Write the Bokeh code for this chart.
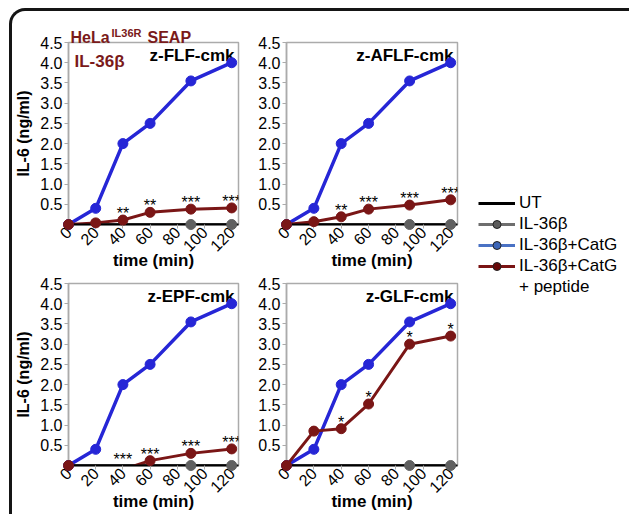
import numpy as np
from bokeh.plotting import figure
from bokeh.models import (ColumnDataSource, FixedTicker, Label, LabelSet, Legend,
                          LegendItem, NumeralTickFormatter, Range1d)
from bokeh.layouts import row, column
from bokeh.embed import file_html
from bokeh.resources import INLINE
from bokeh.core.properties import value

# ---------------- data ----------------
time_min = [0, 20, 40, 60, 90, 120]
x_ticks = [0, 20, 40, 60, 80, 100, 120]
y_ticks = [0.5, 1.0, 1.5, 2.0, 2.5, 3.0, 3.5, 4.0, 4.5]
ut_time = [0, 120]
ut_values = [0, 0]
il36b_time = [90, 120]
il36b_values = [0, 0]
catg_values = [0, 0.40, 2.00, 2.50, 3.55, 4.00]
peptide_names = ["z-FLF-cmk", "z-AFLF-cmk", "z-EPF-cmk", "z-GLF-cmk"]
pep_flf = [0, 0.04, 0.11, 0.30, 0.38, 0.41]
pep_aflf = [0, 0.07, 0.19, 0.38, 0.48, 0.61]
pep_epf = [0, -0.10, -0.10, 0.12, 0.30, 0.41]
pep_glf = [0, 0.85, 0.91, 1.52, 3.00, 3.20]
stars_flf = ["", "", "**", "**", "***", "***"]
stars_aflf = ["", "", "**", "***", "***", "***"]
stars_epf = ["", "", "***", "***", "***", "***"]
stars_glf = ["", "", "*", "*", "*", "*"]
legend_labels = ["UT", "IL-36β", "IL-36β+CatG", "IL-36β+CatG", "+ peptide"]

# ---------------- style ----------------
FONT = "Liberation Sans"
BLUE = "#2626d6"
RED = "#7a1616"
GRAYM = "#606060"
FRAME = "#ababab"
DARKRED = "#7a1a1a"


def make_panel(name, pep, stars, geom, show_ylabel):
    w, h, bl, br, bt, bb = geom
    p = figure(width=w, height=h, x_range=Range1d(0, 125), y_range=Range1d(0, 4.5),
               output_backend="svg", toolbar_location=None,
               min_border_left=bl, min_border_right=br,
               min_border_top=bt, min_border_bottom=bb)
    p.grid.visible = False
    p.outline_line_color = FRAME
    p.outline_line_width = 1.5
    p.background_fill_color = "white"
    p.border_fill_alpha = 0

    xa = p.xaxis[0]
    xa.ticker = FixedTicker(ticks=x_ticks)
    xa.major_label_orientation = np.pi / 4
    xa.axis_line_color = "black"
    xa.axis_line_width = 2
    xa.major_tick_line_color = FRAME
    xa.major_tick_out = 4
    xa.major_tick_in = 0
    xa.minor_tick_line_color = None
    xa.major_label_text_font = FONT
    xa.major_label_text_font_size = "16px"
    xa.major_label_text_color = "black"
    xa.major_label_standoff = 1
    xa.axis_label = "time (min)"
    xa.axis_label_text_font = FONT
    xa.axis_label_text_font_style = "bold"
    xa.axis_label_text_font_size = "17px"
    xa.axis_label_text_color = "black"
    xa.axis_label_standoff = -9

    ya = p.yaxis[0]
    ya.ticker = FixedTicker(ticks=y_ticks)
    ya.formatter = NumeralTickFormatter(format="0.0")
    ya.axis_line_color = FRAME
    ya.axis_line_width = 1.5
    ya.major_tick_line_color = FRAME
    ya.major_tick_out = 4
    ya.major_tick_in = 0
    ya.minor_tick_line_color = None
    ya.major_label_text_font = FONT
    ya.major_label_text_font_size = "16px"
    ya.major_label_text_color = "black"
    ya.major_label_standoff = 2
    if show_ylabel:
        ya.axis_label = "IL-6 (ng/ml)"
        ya.axis_label_text_font = FONT
        ya.axis_label_text_font_style = "bold"
        ya.axis_label_text_font_size = "16px"
        ya.axis_label_text_color = "black"
        ya.axis_label_standoff = 5

    src = ColumnDataSource(dict(t=time_min, catg=catg_values, pep=pep,
                                star_y=np.maximum(np.array(pep), 0), stars=stars))
    mt = [t for t, v in zip(time_min, pep) if v >= 0]
    mv = [v for v in pep if v >= 0]

    p.line(ut_time, ut_values, line_color="black", line_width=2.5)
    p.line("t", "catg", source=src, line_color=BLUE, line_width=3.5)
    p.line("t", "pep", source=src, line_color=RED, line_width=3)
    p.scatter("t", "catg", source=src, size=10, fill_color=BLUE, line_color=BLUE, level="overlay")
    p.scatter(mt, mv, size=10, fill_color=RED, line_color=RED, level="overlay")
    p.scatter(il36b_time, il36b_values, size=10, fill_color=GRAYM, line_color=GRAYM, level="overlay")

    p.add_layout(LabelSet(x="t", y="star_y", text="stars", source=src, text_align="center",
                          text_baseline="alphabetic", y_offset=1,
                          text_font=value(FONT), text_font_size="16px", text_color="black"))
    p.add_layout(Label(x=125, y=4.5, text=name, text_align="right", text_baseline="top",
                       x_offset=-4, y_offset=-3, text_font=FONT, text_font_style="bold",
                       text_font_size="17px", text_color="black"))
    return p


p1 = make_panel(peptide_names[0], pep_flf, stars_flf, (238, 262, 54, 8, 31, 49), True)
p2 = make_panel(peptide_names[1], pep_aflf, stars_aflf, (225, 262, 36, 14, 31, 49), False)
p3 = make_panel(peptide_names[2], pep_epf, stars_epf, (238, 241, 53, 12, 10, 49), True)
p4 = make_panel(peptide_names[3], pep_glf, stars_glf, (225, 241, 32, 18, 10, 49), False)

# header texts on first panel (overlay-level text glyphs are not clipped to the frame)
p1.text(x=[0], y=[4.5], text=["HeLa"], x_offset=2, y_offset=-5, level="overlay",
        text_align="left", text_baseline="alphabetic", text_font=value(FONT),
        text_font_style="bold", text_font_size="16px", text_color=DARKRED)
p1.text(x=[0], y=[4.5], text=["IL36R"], x_offset=43, y_offset=-10, level="overlay",
        text_align="left", text_baseline="alphabetic", text_font=value(FONT),
        text_font_style="bold", text_font_size="11px", text_color=DARKRED)
p1.text(x=[0], y=[4.5], text=["SEAP"], x_offset=79, y_offset=-5, level="overlay",
        text_align="left", text_baseline="alphabetic", text_font=value(FONT),
        text_font_style="bold", text_font_size="16px", text_color=DARKRED)
p1.add_layout(Label(x=0, y=4.5, text="IL-36β", text_align="left", text_baseline="alphabetic",
                    x_offset=6, y_offset=-19, text_font=FONT, text_font_style="bold",
                    text_font_size="17px", text_color=DARKRED))

# ---------------- legend figure ----------------
lf = figure(width=154, height=503, output_backend="svg", toolbar_location=None,
            x_axis_location=None, y_axis_location=None,
            x_range=Range1d(-1000, -999), y_range=Range1d(-1000, -999),
            min_border_top=182, min_border_left=3, min_border_right=0, min_border_bottom=0)
lf.grid.visible = False
lf.outline_line_color = None
lf.border_fill_alpha = 0
lf.background_fill_alpha = 0

r_ut = lf.line(ut_time, ut_values, line_color="black", line_width=3)
r_gl = lf.line(il36b_time, il36b_values, line_color="#6e6e6e", line_width=3)
r_gm = lf.scatter(il36b_time, il36b_values, size=13, fill_color="#5c5c5c", line_color="#222222", line_width=1)
r_bl = lf.line(time_min, catg_values, line_color="#4a72c4", line_width=3)
r_bm = lf.scatter(time_min, catg_values, size=13, fill_color="#3c66b8", line_color="#222222", line_width=1)
r_rl = lf.line(time_min, pep_flf, line_color="#7a1414", line_width=3)
r_rm = lf.scatter(time_min, pep_flf, size=13, fill_color="#680808", line_color="#222222", line_width=1)
r_blank = lf.line(ut_time, ut_values, line_alpha=0)

legend = Legend(items=[
    LegendItem(label=value(legend_labels[0]), renderers=[r_ut]),
    LegendItem(label=value(legend_labels[1]), renderers=[r_gl, r_gm]),
    LegendItem(label=value(legend_labels[2]), renderers=[r_bl, r_bm]),
    LegendItem(label=value(legend_labels[3]), renderers=[r_rl, r_rm]),
    LegendItem(label=value(legend_labels[4]), renderers=[r_blank]),
], location="top_left", margin=0, padding=0, spacing=1, glyph_width=37, glyph_height=20,
    label_height=20, label_standoff=4, label_text_font=FONT, label_text_font_size="17px",
    label_text_color="black", border_line_color=None, background_fill_alpha=0)
lf.add_layout(legend)

root = row(column(p1, p3), column(p2, p4), lf,
           styles={"margin-left": "9px", "margin-top": "8px",
                   "border-top": "3px solid #151515", "border-left": "3px solid #151515",
                   "border-top-left-radius": "16px"})

open("out.html", "w").write(file_html(root, INLINE))
